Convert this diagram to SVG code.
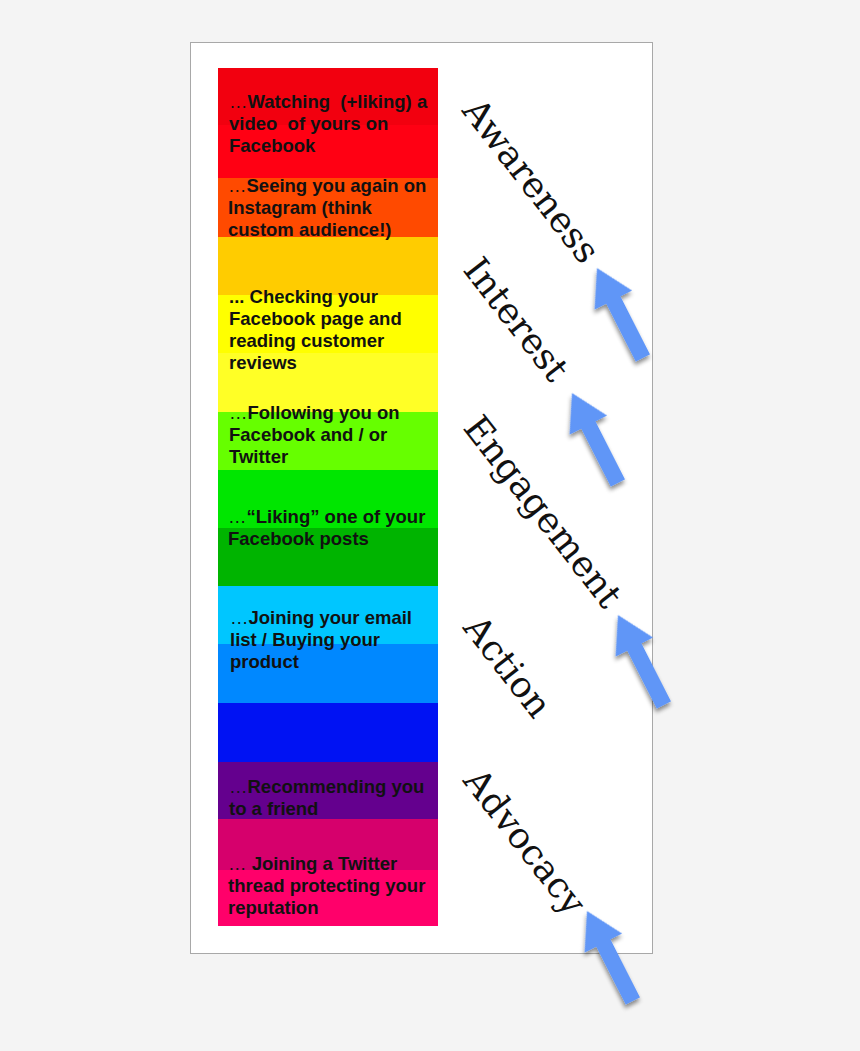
<svg xmlns="http://www.w3.org/2000/svg" width="860" height="1051" viewBox="0 0 860 1051">
<defs>
<filter id="sh" x="-50%" y="-50%" width="200%" height="200%">
<feDropShadow dx="-2" dy="3" stdDeviation="2" flood-color="#000" flood-opacity="0.45"/>
</filter>
<path id="arr" d="M0,0 L21,36 L8,36 L8,101 L-8,101 L-8,36 L-21,36 Z"/>
</defs>
<style>
.t{font-family:"Liberation Sans",Arial,sans-serif;font-weight:bold;font-size:18.5px;fill:#111;white-space:pre;}
.e{font-weight:normal;}
.lab{font-family:"DejaVu Serif","Liberation Serif",serif;font-size:36px;fill:#111;}
.ar{fill:#6196f7;filter:url(#sh);}
</style>
<rect width="860" height="1051" fill="#f4f4f4"/>
<rect id="card" x="190.5" y="42.5" width="462" height="911" fill="#fff" stroke="#a8a8a8" stroke-width="1"/>
<g id="bands">
<rect x="218" y="68" width="220" height="58" fill="#f2000f"/>
<rect x="218" y="125" width="220" height="54" fill="#ff0013"/>
<rect x="218" y="178" width="220" height="60" fill="#ff4a00"/>
<rect x="218" y="237" width="220" height="59" fill="#ffcc00"/>
<rect x="218" y="295" width="220" height="59" fill="#ffff00"/>
<rect x="218" y="353" width="220" height="60" fill="#ffff26"/>
<rect x="218" y="412" width="220" height="59" fill="#66ff00"/>
<rect x="218" y="470" width="220" height="59" fill="#00e600"/>
<rect x="218" y="528" width="220" height="59" fill="#00b400"/>
<rect x="218" y="586" width="220" height="59" fill="#00c6ff"/>
<rect x="218" y="644" width="220" height="60" fill="#0088ff"/>
<rect x="218" y="703" width="220" height="60" fill="#0012f3"/>
<rect x="218" y="762" width="220" height="58" fill="#64008e"/>
<rect x="218" y="819" width="220" height="52" fill="#d6006c"/>
<rect x="218" y="870" width="220" height="56" fill="#ff006a"/>
</g>
<g id="text1"><text class="t" x="229" y="108" xml:space="preserve"><tspan class="e">…</tspan>Watching  (+liking) a</text><text class="t" x="229" y="130" xml:space="preserve">video  of yours on</text><text class="t" x="229" y="152">Facebook</text></g>
<g id="text2"><text class="t" x="228" y="192"><tspan class="e">…</tspan>Seeing you again on</text><text class="t" x="228" y="214">Instagram (think</text><text class="t" x="228" y="236">custom audience!)</text></g>
<g id="text3"><text class="t" x="229" y="303">... Checking your</text><text class="t" x="229" y="325">Facebook page and</text><text class="t" x="229" y="347">reading customer</text><text class="t" x="229" y="369">reviews</text></g>
<g id="text4"><text class="t" x="229" y="419"><tspan class="e">…</tspan>Following you on</text><text class="t" x="229" y="441">Facebook and / or</text><text class="t" x="229" y="463">Twitter</text></g>
<g id="text5"><text class="t" x="228" y="523"><tspan class="e">…</tspan>“Liking” one of your</text><text class="t" x="228" y="545">Facebook posts</text></g>
<g id="text6"><text class="t" x="230" y="624"><tspan class="e">…</tspan>Joining your email</text><text class="t" x="230" y="646">list / Buying your</text><text class="t" x="230" y="668">product</text></g>
<g id="text7"><text class="t" x="229" y="793"><tspan class="e">…</tspan>Recommending you</text><text class="t" x="229" y="815">to a friend</text></g>
<g id="text8"><text class="t" x="228" y="870"><tspan class="e">…</tspan> Joining a Twitter</text><text class="t" x="228" y="892">thread protecting your</text><text class="t" x="228" y="914">reputation</text></g>
<g id="lab-awareness"><text class="lab" transform="translate(461,111) rotate(52)">Awareness</text></g>
<g id="lab-interest"><text class="lab" transform="translate(462,270) rotate(52)">Interest</text></g>
<g id="lab-engagement"><text class="lab" transform="translate(462,428) rotate(52)">Engagement</text></g>
<g id="lab-action"><text class="lab" transform="translate(462,628) rotate(52)">Action</text></g>
<g id="lab-advocacy"><text class="lab" transform="translate(462,781) rotate(52)">Advocacy</text></g>
<g id="arrows">
<use href="#arr" class="ar" transform="translate(597,268) rotate(-27)"/>
<use href="#arr" class="ar" transform="translate(572,393) rotate(-27)"/>
<use href="#arr" class="ar" transform="translate(618,615) rotate(-27)"/>
<use href="#arr" class="ar" transform="translate(587,911) rotate(-27)"/>
</g>
</svg>
